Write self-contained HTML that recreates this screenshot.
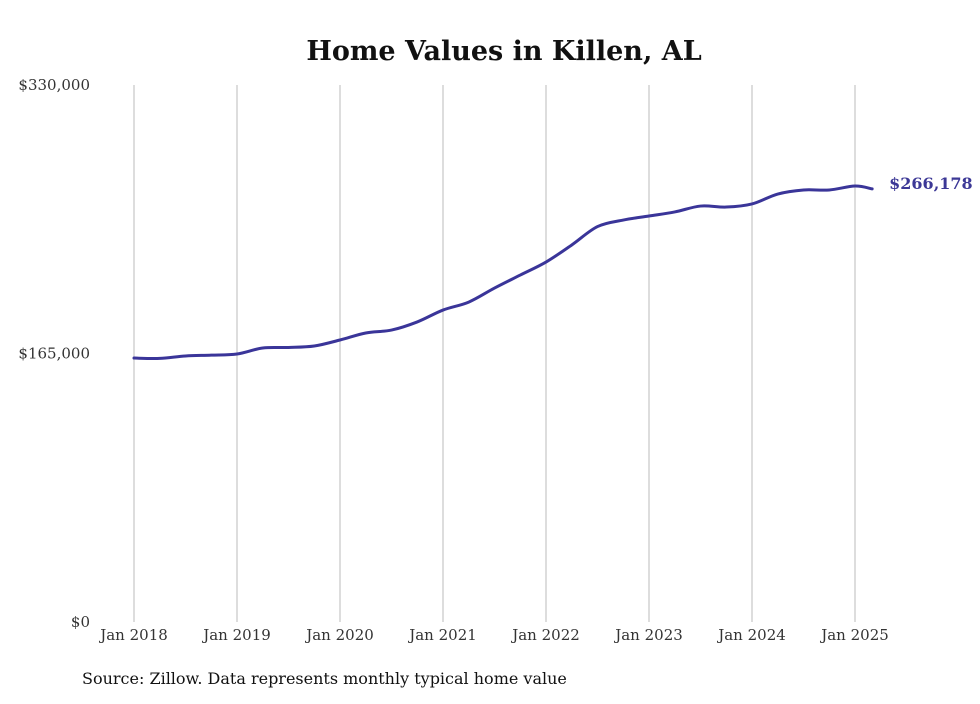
<!DOCTYPE html>
<html><head><meta charset="utf-8"><style>
body{margin:0;background:#fff;}
svg text{font-family:"DejaVu Serif","Liberation Serif",serif;}
</style></head><body>
<svg width="980" height="699" viewBox="0 0 980 699">
<text x="504" y="60" text-anchor="middle" font-size="27" font-weight="bold" fill="#111">Home Values in Killen, AL</text>
<g id="grid"></g><g id="yaxis"></g><g id="xaxis"></g>
<path id="line" fill="none" stroke="#3a3599" stroke-width="3" stroke-linejoin="round" stroke-linecap="round"/>
<text id="endlabel" font-size="16" font-weight="bold" fill="#3c3896"></text>
<text x="82" y="684" font-size="16" fill="#111">Source: Zillow. Data represents monthly typical home value</text>
</svg>
<script>
const months=[0,3,6,9,12,15,18,21,24,27,30,33,36,39,42,45,48,51,54,57,60,63,66,69,72,75,78,81,84,86];
const values=[162200,162000,163500,164000,164700,168400,168700,169600,173300,177600,179400,184400,191700,196600,205200,213200,221200,231700,243000,247000,249500,252000,255600,255000,256900,263000,265500,265500,267900,266178];
const yTicks=[0,165000,330000];
const yTickLabels=["$0","$165,000","$330,000"];
const xYears=[2018,2019,2020,2021,2022,2023,2024,2025];
const endLabel="$266,178";
const NS="http://www.w3.org/2000/svg";
const x=m=>134+m*(721/84);
const y=v=>622-v*(537/330000);
const grid=document.getElementById('grid'),xa=document.getElementById('xaxis'),ya=document.getElementById('yaxis');
xYears.forEach((yr,i)=>{
 const l=document.createElementNS(NS,'line');
 
 
 l.setAttribute('x1',x(i*12));l.setAttribute('x2',x(i*12));l.setAttribute('y1',85);l.setAttribute('y2',622);
 l.setAttribute('stroke','#bbb');l.setAttribute('stroke-width','1');grid.appendChild(l);
 const t=document.createElementNS(NS,'text');
 
 
 t.setAttribute('x',x(i*12));t.setAttribute('y',640);t.setAttribute('text-anchor','middle');t.setAttribute('font-size','15');t.setAttribute('fill','#333');
 t.textContent='Jan '+yr;xa.appendChild(t);
});
yTicks.forEach((v,i)=>{
 const t=document.createElementNS(NS,'text');
 
 
 t.setAttribute('x',90);t.setAttribute('y',y(v)+5);t.setAttribute('text-anchor','end');t.setAttribute('font-size','15');t.setAttribute('fill','#333');
 t.textContent=yTickLabels[i];ya.appendChild(t);
});
const pts=months.map((m,i)=>[x(m),y(values[i])]);
let d='M'+pts[0][0]+','+pts[0][1];
for(let i=0;i<pts.length-1;i++){
 const p0=pts[Math.max(0,i-1)],p1=pts[i],p2=pts[i+1],p3=pts[Math.min(pts.length-1,i+2)];
 const c1=[p1[0]+(p2[0]-p0[0])/6,p1[1]+(p2[1]-p0[1])/6],c2=[p2[0]-(p3[0]-p1[0])/6,p2[1]-(p3[1]-p1[1])/6];
 d+=' C'+c1+' '+c2+' '+p2;
}
document.getElementById('line').setAttribute('d',d);
const el=document.getElementById('endlabel');
const last=pts[pts.length-1];
el.setAttribute('x',last[0]+17);el.setAttribute('y',last[1]+0);el.textContent=endLabel;
</script>
</body></html>
